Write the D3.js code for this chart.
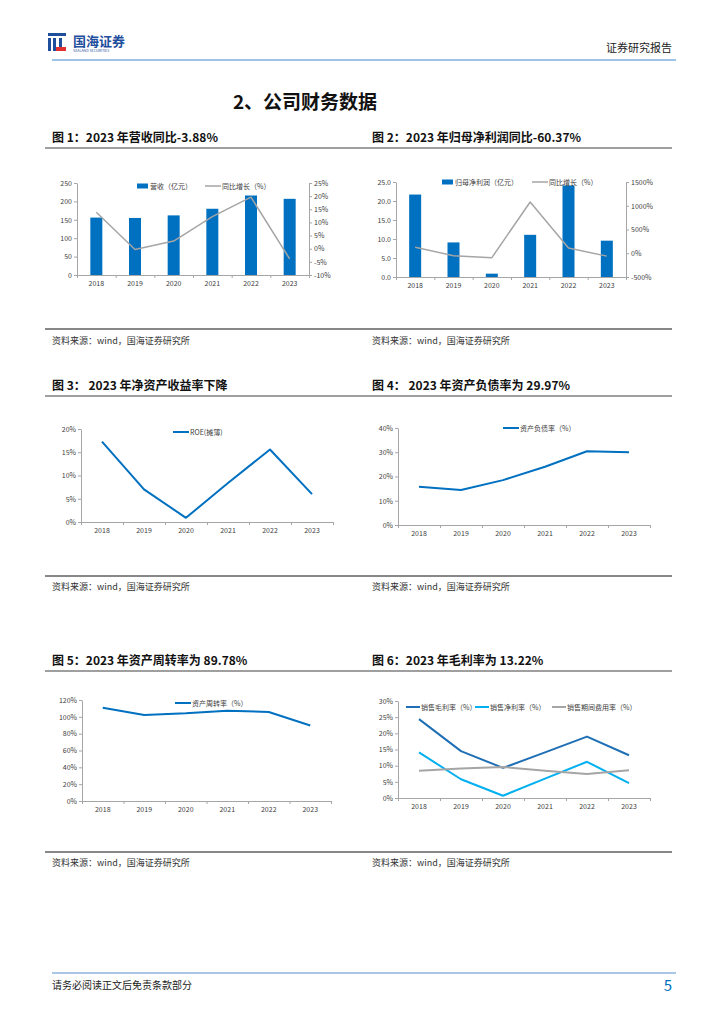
<!DOCTYPE html>
<html>
<head>
<meta charset="utf-8">
<script src="https://cdn.jsdelivr.net/npm/d3@7"></script>
<style>
  body { margin: 0; background: #fff; }
  svg text { font-family: "Noto Sans CJK SC", "Liberation Sans", sans-serif; }
</style>
</head>
<body>
<svg id="page" width="724" height="1024"></svg>
<script>
// data
const years = ['2018', '2019', '2020', '2021', '2022', '2023'];
const revenue = [156, 155, 162, 180, 216, 207];
const revenueYoy = [13.9, -0.3, 2.9, 12.2, 19.6, -3.88];
const netProfit = [21.7, 9.1, 0.88, 11.1, 24.1, 9.56];
const netProfitYoy = [125, -51, -93, 1079, 110, -60.37];
const roe = [17.3, 7.0, 0.9, 8.4, 15.6, 6.0];
const debtRatio = [15.8, 14.4, 18.5, 24.0, 30.4, 29.97];
const turnover = [110.9, 102.2, 104.2, 107.3, 105.7, 89.78];
const grossMargin = [24.4, 14.5, 9.3, 14.1, 19.0, 13.22];
const netMargin = [14.1, 5.8, 0.7, 6.0, 11.2, 4.6];
const expenseRatio = [8.4, 9.1, 9.6, 8.4, 7.4, 8.6];

const revTicks = [0, 50, 100, 150, 200, 250];
const revYoyTicks = [-10, -5, 0, 5, 10, 15, 20, 25];
const profitTicks = [0, 5, 10, 15, 20, 25];
const profitYoyTicks = [-500, 0, 500, 1000, 1500];
const roeTicks = [0, 5, 10, 15, 20];
const debtTicks = [0, 10, 20, 30, 40];
const turnoverTicks = [0, 20, 40, 60, 80, 100, 120];
const marginTicks = [0, 5, 10, 15, 20, 25, 30];

const titles = [
  '图 1：2023 年营收同比-3.88%', '图 2：2023 年归母净利润同比-60.37%',
  '图 3： 2023 年净资产收益率下降', '图 4： 2023 年资产负债率为 29.97%',
  '图 5：2023 年资产周转率为 89.78%', '图 6：2023 年毛利率为 13.22%'
];
const source = '资料来源：wind，国海证券研究所';

const BLUE = '#0070c0', GREY = '#a5a5a5', LIGHT = '#00b0f0';
const svg = d3.select('#page');

// header
const logo = svg.append('g');
logo.append('rect').attr('x', 48).attr('y', 33).attr('width', 18).attr('height', 3).attr('fill', '#1f4e9c');
logo.append('rect').attr('x', 48).attr('y', 38).attr('width', 3).attr('height', 13).attr('fill', '#1f4e9c');
logo.append('rect').attr('x', 53).attr('y', 38).attr('width', 3).attr('height', 13).attr('fill', '#1f4e9c');
logo.append('rect').attr('x', 59).attr('y', 38).attr('width', 3).attr('height', 9).attr('fill', '#1f4e9c');
logo.append('rect').attr('x', 56).attr('y', 47).attr('width', 10).attr('height', 4).attr('fill', '#e03030');
logo.append('text').attr('x', 73).attr('y', 46).attr('font-size', 13).attr('font-weight', 'bold')
  .attr('fill', '#1f4e9c').text('国海证券');
logo.append('text').attr('x', 73).attr('y', 52).attr('font-size', 3.6).attr('fill', '#1f4e9c')
  .attr('font-family', 'Liberation Sans').text('SEALAND SECURITIES');
svg.append('text').attr('x', 672).attr('y', 52).attr('text-anchor', 'end').attr('font-size', 11)
  .attr('fill', '#222').text('证券研究报告');
svg.append('line').attr('x1', 52).attr('x2', 676).attr('y1', 60).attr('y2', 60)
  .attr('stroke', '#9dc3e6').attr('stroke-width', 2);

svg.append('text').attr('x', 305).attr('y', 109).attr('text-anchor', 'middle').attr('font-size', 19)
  .attr('font-weight', 'bold').attr('fill', '#111').text('2、公司财务数据');

// figure frames: titles, rules, sources
const rows = [{ t: 142, top: 148, bot: 329, src: 344 },
              { t: 390, top: 396, bot: 576, src: 590 },
              { t: 665, top: 671, bot: 852, src: 866 }];
rows.forEach((r, i) => {
  [0, 1].forEach(j => {
    const x = j === 0 ? 52 : 372;
    svg.append('text').attr('x', x).attr('y', r.t).attr('font-size', 12).attr('font-weight', 'bold')
      .attr('fill', '#111').text(titles[i * 2 + j]);
    svg.append('text').attr('x', x).attr('y', r.src).attr('font-size', 9).attr('fill', '#333').text(source);
  });
  svg.append('line').attr('x1', 45).attr('x2', 672).attr('y1', r.top).attr('y2', r.top)
    .attr('stroke', '#7f7f7f').attr('stroke-width', 1.5);
  svg.append('line').attr('x1', 45).attr('x2', 672).attr('y1', r.bot).attr('y2', r.bot)
    .attr('stroke', '#111').attr('stroke-width', 1);
});

// footer
svg.append('line').attr('x1', 52).attr('x2', 676).attr('y1', 973).attr('y2', 973)
  .attr('stroke', '#8db3e2').attr('stroke-width', 1.5);
svg.append('text').attr('x', 52).attr('y', 989).attr('font-size', 10).attr('fill', '#222').text('请务必阅读正文后免责条款部分');
svg.append('text').attr('x', 672).attr('y', 991).attr('text-anchor', 'end').attr('font-size', 15)
  .attr('fill', BLUE).attr('font-family', 'Liberation Sans').text('5');

function styleAxis(sel) {
  sel.select('.domain').attr('stroke', '#a6a6a6');
  sel.selectAll('.tick line').attr('stroke', '#a6a6a6');
  sel.selectAll('.tick text').attr('font-size', 7).attr('fill', '#404040')
    .attr('font-family', 'Liberation Sans');
}

function drawChart(c) {
  const g = svg.append('g');
  const x = d3.scaleBand().domain(years).range([c.x0, c.x1]);
  const yl = d3.scaleLinear().domain(c.left.domain).range([c.yb, c.yt]);
  const yr = c.right ? d3.scaleLinear().domain(c.right.domain).range([c.yb, c.yt]) : null;

  // x axis with boundary ticks
  const xb = d3.scaleLinear().domain([0, years.length]).range([c.x0, c.x1]);
  g.append('g').attr('transform', `translate(0,${c.yb})`)
    .call(d3.axisBottom(xb).tickValues(d3.range(years.length + 1)).tickFormat('').tickSize(3).tickSizeOuter(0))
    .call(styleAxis);
  g.append('g').attr('transform', `translate(0,${c.yb})`)
    .call(d3.axisBottom(x).tickSize(0).tickPadding(c.xPad || 6))
    .call(styleAxis).call(s => s.select('.domain').remove());

  g.append('g').attr('transform', `translate(${c.x0},0)`)
    .call(d3.axisLeft(yl).tickValues(c.left.ticks).tickFormat(c.left.fmt).tickSize(3).tickSizeOuter(0).tickPadding(2))
    .call(styleAxis);
  if (yr) {
    g.append('g').attr('transform', `translate(${c.x1},0)`)
      .call(d3.axisRight(yr).tickValues(c.right.ticks).tickFormat(c.right.fmt).tickSize(3).tickSizeOuter(0).tickPadding(2))
      .call(styleAxis);
  }

  if (c.bars) {
    const bw = 12;
    g.selectAll('rect.bar').data(c.bars.values).enter().append('rect')
      .attr('x', (d, i) => x(years[i]) + x.bandwidth() / 2 - bw / 2)
      .attr('y', d => yl(d)).attr('width', bw).attr('height', d => yl(c.left.domain[0]) - yl(d))
      .attr('fill', c.bars.color);
  }

  c.lines.forEach(l => {
    const ys = l.axis === 'right' ? yr : yl;
    g.append('path').datum(l.values)
      .attr('fill', 'none').attr('stroke', l.color).attr('stroke-width', l.width || 2)
      .attr('stroke-linejoin', 'round')
      .attr('d', d3.line().x((d, i) => x(years[i]) + x.bandwidth() / 2).y(d => ys(d)));
  });

  c.legend.forEach(it => {
    if (it.type === 'bar') {
      g.append('rect').attr('x', it.x).attr('y', it.y - 2.5).attr('width', 11).attr('height', 5).attr('fill', it.color);
      g.append('text').attr('x', it.x + 13).attr('y', it.y + 2.5).attr('font-size', 7).attr('fill', '#404040').text(it.label);
    } else {
      g.append('line').attr('x1', it.x).attr('x2', it.x + (it.w || 16)).attr('y1', it.y).attr('y2', it.y)
        .attr('stroke', it.color).attr('stroke-width', it.sw || 2);
      g.append('text').attr('x', it.x + (it.w || 16) + 1).attr('y', it.y + 2.5).attr('font-size', 7)
        .attr('fill', '#404040').text(it.label);
    }
  });
}

const pct = d => d + '%';

drawChart({
  x0: 77, x1: 309, yt: 183, yb: 275,
  left: { domain: [0, 250], ticks: revTicks, fmt: d => d },
  right: { domain: [-10, 25], ticks: revYoyTicks, fmt: pct },
  bars: { values: revenue, color: BLUE },
  lines: [{ values: revenueYoy, color: GREY, axis: 'right', width: 1.5 }],
  legend: [{ type: 'bar', x: 137, y: 186, color: BLUE, label: '营收（亿元）' },
           { type: 'line', x: 205, y: 186, color: GREY, label: '同比增长（%）', sw: 1.5 }]
});

drawChart({
  x0: 396, x1: 626, yt: 182, yb: 277,
  left: { domain: [0, 25], ticks: profitTicks, fmt: d3.format('.1f') },
  right: { domain: [-500, 1500], ticks: profitYoyTicks, fmt: pct },
  bars: { values: netProfit, color: BLUE },
  lines: [{ values: netProfitYoy, color: GREY, axis: 'right', width: 1.5 }],
  legend: [{ type: 'bar', x: 442, y: 182, color: BLUE, label: '归母净利润（亿元）' },
           { type: 'line', x: 532, y: 182, color: GREY, label: '同比增长（%）', sw: 1.5 }]
});

drawChart({
  x0: 81, x1: 333, yt: 429, yb: 522,
  left: { domain: [0, 20], ticks: roeTicks, fmt: pct },
  lines: [{ values: roe, color: BLUE }],
  legend: [{ type: 'line', x: 173, y: 432, color: BLUE, label: 'ROE(摊薄)' }]
});

drawChart({
  x0: 398, x1: 650, yt: 428, yb: 525,
  left: { domain: [0, 40], ticks: debtTicks, fmt: pct },
  lines: [{ values: debtRatio, color: BLUE }],
  legend: [{ type: 'line', x: 503, y: 428, color: BLUE, label: '资产负债率（%）' }]
});

drawChart({
  x0: 82, x1: 331, yt: 700, yb: 801,
  left: { domain: [0, 120], ticks: turnoverTicks, fmt: pct },
  lines: [{ values: turnover, color: BLUE }],
  legend: [{ type: 'line', x: 175, y: 703, color: BLUE, label: '资产周转率（%）' }]
});

drawChart({
  x0: 398, x1: 650, yt: 701, yb: 798,
  left: { domain: [0, 30], ticks: marginTicks, fmt: pct },
  lines: [{ values: grossMargin, color: '#1f6fb5' },
          { values: netMargin, color: LIGHT },
          { values: expenseRatio, color: GREY }],
  legend: [{ type: 'line', x: 406, y: 707, w: 14, color: '#1f6fb5', label: '销售毛利率（%）' },
           { type: 'line', x: 475, y: 707, w: 14, color: LIGHT, label: '销售净利率（%）' },
           { type: 'line', x: 552, y: 707, w: 14, color: GREY, label: '销售期间费用率（%）' }]
});
</script>
</body>
</html>
